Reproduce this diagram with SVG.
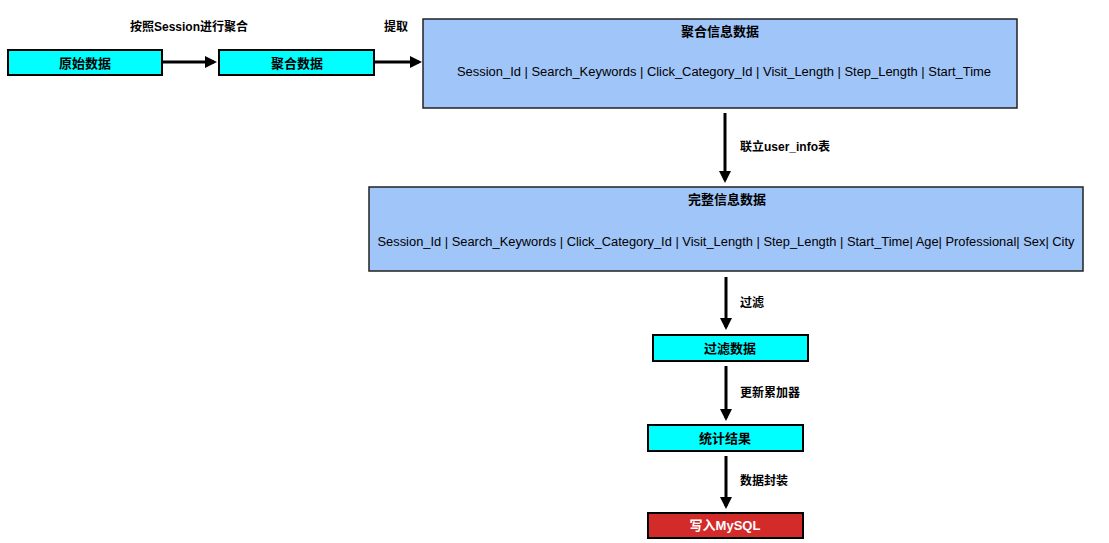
<svg xmlns="http://www.w3.org/2000/svg" width="1109" height="543" viewBox="0 0 1109 543">
<defs>
<style>
.t{font-family:"Liberation Sans","Noto Sans CJK SC",sans-serif;font-size:13px;font-weight:bold;fill:#000;text-anchor:middle;dominant-baseline:central}
.lbl{font-family:"Liberation Sans","Noto Sans CJK SC",sans-serif;font-size:12px;font-weight:bold;fill:#000;dominant-baseline:central}
.f{font-family:"Liberation Sans","Noto Sans CJK SC",sans-serif;font-size:12px;fill:#000;text-anchor:middle;dominant-baseline:central}
.cyan{fill:#00ffff;stroke:#000;stroke-width:2}
.blue{fill:#a0c5f8;stroke:#222;stroke-width:1.5}
.red{fill:#d32a2a;stroke:#000;stroke-width:2}
.c{stroke:#000;stroke-width:3;fill:none;marker-end:url(#ah)}
</style>
<marker id="ah" markerWidth="4" markerHeight="4" refX="3" refY="2" orient="auto" markerUnits="strokeWidth">
<path d="M0,0 L4,2 L0,4 Z" fill="#000"/>
</marker>
</defs>
<rect width="1109" height="543" fill="#fff"/>
<g id="connectors">
<line class="c" x1="163" y1="62" x2="214" y2="62"/>
<line class="c" x1="375" y1="62" x2="419" y2="62"/>
<line class="c" x1="725" y1="113" x2="725" y2="180"/>
<line class="c" x1="726" y1="277" x2="726" y2="327"/>
<line class="c" x1="726" y1="366" x2="726" y2="418"/>
<line class="c" x1="726" y1="456" x2="726" y2="506"/>
<text class="lbl" x="189" y="27" text-anchor="middle">按照Session进行聚合</text>
<text class="lbl" x="396" y="27" text-anchor="middle">提取</text>
<text class="lbl" x="740" y="147">联立user_info表</text>
<text class="lbl" x="740" y="303">过滤</text>
<text class="lbl" x="740" y="393">更新累加器</text>
<text class="lbl" x="740" y="481">数据封装</text>
</g>
<g id="n1">
<rect class="cyan" x="8" y="50" width="154" height="25"/>
<text class="t" x="85" y="63">原始数据</text>
</g>
<g id="n2">
<rect class="cyan" x="219" y="50" width="155" height="25"/>
<text class="t" x="297" y="63">聚合数据</text>
</g>
<g id="n3">
<rect class="blue" x="423" y="19" width="594" height="89"/>
<text class="t" x="720" y="31">聚合信息数据</text>
<text class="f" x="724" y="72" textLength="534" lengthAdjust="spacingAndGlyphs">Session_Id | Search_Keywords | Click_Category_Id | Visit_Length | Step_Length | Start_Time</text>
</g>
<g id="n4">
<rect class="blue" x="369" y="187" width="714" height="84"/>
<text class="t" x="727" y="199">完整信息数据</text>
<text class="f" x="726" y="242" textLength="697" lengthAdjust="spacingAndGlyphs">Session_Id | Search_Keywords | Click_Category_Id | Visit_Length | Step_Length | Start_Time| Age| Professional| Sex| City</text>
</g>
<g id="n5">
<rect class="cyan" x="653" y="335" width="155" height="26"/>
<text class="t" x="730" y="348">过滤数据</text>
</g>
<g id="n6">
<rect class="cyan" x="648" y="425" width="155" height="26"/>
<text class="t" x="725" y="438">统计结果</text>
</g>
<g id="n7">
<rect class="red" x="648" y="513" width="155" height="25"/>
<text class="t" x="725" y="525" style="fill:#fff">写入MySQL</text>
</g>
</svg>
